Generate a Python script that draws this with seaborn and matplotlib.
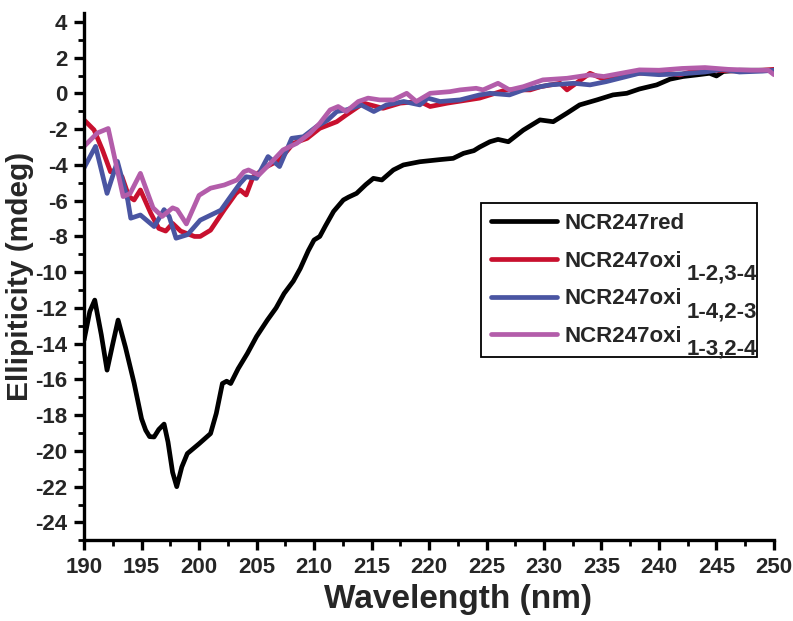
import numpy as np
import pandas as pd
import matplotlib
matplotlib.use("Agg")
import matplotlib.pyplot as plt
import seaborn as sns

# ---- data ----
red_x = [190.0, 190.5, 190.93, 191.5, 192.0, 192.5, 192.96, 193.6, 194.35, 195.0, 195.36, 195.7,
         196.09, 196.5, 196.96, 197.3, 197.7, 198.06, 198.5, 198.98, 200.0, 201.0, 201.5, 202.03,
         202.4, 202.75, 203.4, 204.2, 205.0, 205.94, 206.7, 207.4, 208.2, 208.8, 209.5, 210.0,
         210.5, 211.0, 211.7, 212.55, 213.0, 213.7, 214.5, 215.16, 215.9, 216.9, 217.77, 219.2,
         220.96, 222.1, 223.0, 223.9, 224.4, 225.3, 226.0, 226.9, 228.2, 229.65, 230.8, 232.0,
         233.1, 234.6, 236.0, 237.2, 238.3, 239.8, 240.96, 242.1, 243.3, 244.4, 245.0, 245.6,
         247.0, 248.5, 250.0]
red_y = [-13.8, -12.2, -11.56, -13.5, -15.48, -14.0, -12.68, -14.2, -16.2, -18.2, -18.84, -19.2,
         -19.22, -18.8, -18.5, -19.5, -21.2, -22.0, -20.9, -20.15, -19.6, -19.03, -17.9, -16.23,
         -16.1, -16.23, -15.4, -14.55, -13.6, -12.68, -12.0, -11.19, -10.5, -9.8, -8.8, -8.2,
         -8.0, -7.4, -6.6, -5.96, -5.8, -5.59, -5.1, -4.75, -4.84, -4.28, -4.0, -3.82,
         -3.7, -3.63, -3.35, -3.2, -3.0, -2.7, -2.57, -2.7, -2.05, -1.48, -1.58, -1.1,
         -0.64, -0.36, -0.08, 0.01, 0.25, 0.48, 0.8, 0.95, 1.04, 1.13, 0.98, 1.23,
         1.3, 1.3, 1.3]

ox12_x = [190.0, 190.87, 191.6, 192.3, 192.75, 193.3, 193.9, 194.35, 194.9, 195.8, 196.5, 197.1,
          197.7, 198.4, 199.6, 200.1, 201.0, 202.2, 203.2, 203.57, 204.1, 204.7, 205.9, 207.0,
          208.2, 209.4, 210.5, 211.98, 212.8, 214.3, 216.0, 217.5, 219.2, 220.1, 221.6, 223.4,
          224.4, 225.3, 226.7, 228.8, 229.7, 231.4, 232.0, 232.6, 234.0, 235.0, 236.5, 238.3,
          240.0, 241.8, 243.0, 245.0, 247.0, 249.0, 250.0]
ox12_y = [-1.48, -2.04, -3.16, -4.38, -4.28, -4.66, -5.77, -5.96, -5.4, -6.7, -7.55, -7.7,
          -7.27, -7.7, -8.0, -8.0, -7.65, -6.5, -5.6, -5.4, -5.68, -4.66, -4.09, -3.72,
          -2.79, -2.51, -1.95, -1.58, -1.2, -0.54, -0.83, -0.54, -0.45, -0.73, -0.54, -0.36,
          -0.26, -0.08, 0.2, 0.2, 0.38, 0.57, 0.2, 0.48, 1.13, 0.85, 1.0, 1.13,
          1.2, 1.04, 1.25, 1.3, 1.25, 1.3, 1.35]

ox14_x = [190.0, 191.0, 192.0, 192.9, 193.8, 194.06, 194.9, 196.1, 196.96, 197.4, 198.0, 199.0,
          200.1, 201.9, 202.75, 203.57, 204.1, 205.0, 206.0, 207.0, 208.06, 209.07, 210.2, 211.2,
          211.98, 212.8, 214.1, 215.2, 216.3, 217.8, 219.2, 219.9, 220.96, 222.7, 224.4, 225.3,
          227.0, 228.2, 230.5, 232.6, 234.0, 235.4, 238.3, 240.0, 242.0, 244.0, 245.5, 247.0,
          249.0, 250.0]
ox14_y = [-4.16, -2.96, -5.59, -3.8, -5.97, -6.98, -6.8, -7.45, -6.5, -6.88, -8.1, -7.9,
          -7.09, -6.53, -5.76, -5.03, -4.66, -4.75, -3.53, -4.09, -2.51, -2.42, -1.86, -1.48,
          -1.01, -0.92, -0.64, -1.01, -0.64, -0.45, -0.64, -0.26, -0.45, -0.36, -0.08, 0.01,
          -0.08, 0.2, 0.48, 0.57, 0.48, 0.66, 1.13, 1.05, 1.1, 1.2, 1.35, 1.2,
          1.25, 1.3]

ox13_x = [190.0, 191.16, 192.1, 193.4, 194.0, 194.9, 196.0, 196.8, 197.7, 198.1, 198.9, 200.0,
          201.0, 202.2, 203.3, 203.9, 204.3, 205.2, 206.2, 207.3, 208.5, 209.65, 210.5, 211.4,
          212.1, 212.8, 213.85, 214.7, 215.7, 216.9, 218.06, 218.9, 220.1, 221.8, 222.7, 224.1,
          224.7, 226.0, 227.0, 228.2, 229.9, 232.0, 234.0, 235.2, 238.3, 240.0, 242.0, 244.0,
          246.0, 248.0, 249.5, 250.0]
ox13_y = [-2.96, -2.21, -1.96, -5.77, -5.6, -4.47, -6.4, -6.88, -6.4, -6.5, -7.3, -5.7,
          -5.3, -5.12, -4.84, -4.38, -4.28, -4.56, -3.91, -3.16, -2.79, -2.23, -1.67, -0.92,
          -0.73, -1.01, -0.45, -0.26, -0.36, -0.36, 0.01, -0.45, 0.01, 0.1, 0.2, 0.29,
          0.2, 0.57, 0.2, 0.38, 0.76, 0.85, 1.04, 0.95, 1.32, 1.3, 1.4, 1.45,
          1.35, 1.3, 1.3, 1.05]

series_names = ["NCR247red", "NCR247oxi 1-2,3-4", "NCR247oxi 1-4,2-3", "NCR247oxi 1-3,2-4"]
main_labels = ["NCR247red", "NCR247oxi", "NCR247oxi", "NCR247oxi"]
sub_labels = ["", "1-2,3-4", "1-4,2-3", "1-3,2-4"]
colors = ["#000000", "#C8102E", "#4A55A2", "#B35DAA"]
x_ticks = [190, 195, 200, 205, 210, 215, 220, 225, 230, 235, 240, 245, 250]
y_ticks = list(range(-24, 5, 2))

frames = []
for name, xs, ys in zip(series_names,
                        [red_x, ox12_x, ox14_x, ox13_x],
                        [red_y, ox12_y, ox14_y, ox13_y]):
    frames.append(pd.DataFrame({"Wavelength": xs, "Ellipticity": ys, "Sample": name}))
df = pd.concat(frames, ignore_index=True)

# ---- style ----
sns.set_style("ticks")
plt.rcParams["font.family"] = ["Liberation Sans", "DejaVu Sans"]
plt.rcParams["font.weight"] = "bold"
plt.rcParams["axes.unicode_minus"] = False

fig = plt.figure(figsize=(7.93, 6.21), dpi=100)
ax = fig.add_axes([0.106, 0.130, 0.870, 0.849])

sns.lineplot(data=df, x="Wavelength", y="Ellipticity", hue="Sample",
             hue_order=series_names, palette=colors, estimator=None, sort=False,
             linewidth=3.4, ax=ax, legend=False)

ax.set_xlim(190, 250)
ax.set_ylim(-25, 4.5)
ax.set_xticks(x_ticks)
ax.set_yticks(y_ticks)
ax.set_xticks(np.arange(192.5, 250, 5), minor=True)
ax.set_yticks(np.arange(-25, 5, 1), minor=True)
ax.tick_params(axis="both", which="major", direction="out", length=7, width=2.4,
               labelsize=16, color="black")
ax.tick_params(axis="both", which="minor", direction="out", length=4, width=2.0, color="black")
ax.tick_params(axis="x", which="major", pad=5)
ax.tick_params(axis="y", which="major", pad=5)
for lab in ax.get_xticklabels() + ax.get_yticklabels():
    lab.set_fontweight("bold")

for s in ["top", "right"]:
    ax.spines[s].set_visible(False)
for s in ["left", "bottom"]:
    ax.spines[s].set_linewidth(2.4)
    ax.spines[s].set_color("black")

ax.set_xlabel("Wavelength (nm)", fontsize=24, fontweight="bold")
ax.xaxis.set_label_coords(0.542, -0.0835)
ax.set_ylabel("Ellipiticity (mdeg)", fontsize=21.5, fontweight="bold")
ax.yaxis.set_label_coords(-0.073, 0.5)

# ---- legend ----
handles = ax.get_lines()[:4]
leg = ax.legend(handles, main_labels, loc="upper left",
                bbox_to_anchor=(0.575, 0.33, 0.40, 0.3095), mode="expand",
                prop={"size": 16, "weight": "bold"}, frameon=True, fancybox=False,
                edgecolor="black", framealpha=1, handlelength=3.0, handletextpad=0.3,
                labelspacing=0.75, borderpad=0.45, borderaxespad=0)
leg.get_frame().set_linewidth(1.3)
for lh in leg.get_lines():
    lh.set_linewidth(3.4)

for txt, sub in zip(leg.get_texts(), sub_labels):
    if sub:
        ax.annotate(sub, xy=(1, 0.5), xycoords=txt, xytext=(3.5, -9.2), textcoords="offset points",
                    fontsize=16, fontweight="bold", ha="left", va="center", zorder=10)

fig.savefig("out.png", dpi=100)
